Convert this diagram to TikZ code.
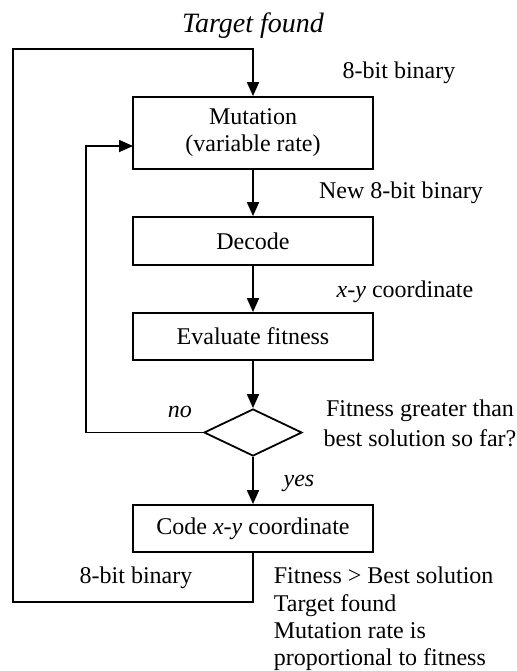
\documentclass[tikz,border=0pt]{standalone}
\usepackage{fontspec}
\setmainfont{Liberation Serif}
\usepackage{tikz}
\usetikzlibrary{positioning}
\usetikzlibrary{arrows.meta,shapes.geometric}

\begin{document}
\begin{tikzpicture}[x=0.5pt,y=-0.5pt,
  font=\fontsize{12}{13.6}\selectfont,
  >={Triangle[length=7pt,width=6pt]},
  every path/.style={line width=0.9pt},
  box/.style={draw,rectangle,minimum width=120pt,inner sep=0pt},
  decide/.style={draw,diamond,minimum width=49pt,minimum height=23.5pt,inner sep=0pt},
  lbl/.style={inner sep=0pt}]
\useasboundingbox (0,0) rectangle (517,671);
% blocks
\node[box,minimum height=36pt,align=center] (mut) at (253,133) {Mutation\\(variable rate)};
\node[box,minimum height=24pt] (dec) at (253,241) {Decode};
\node[box,minimum height=23.5pt] (eval) at (253,336.5) {Evaluate fitness};
\node[decide] (test) at (253,432.5) {};
\node[box,minimum height=23.5pt] (code) at (253,528.5) {Code \textit{x-y} coordinate};
% corner points of the loops
\coordinate (botr) at (253,602);
\coordinate (botl) at (13,602);
\coordinate (topl) at (13,49);
\coordinate (topr) at (253,49);
\coordinate (nol) at (86,432.5);
\coordinate (noup) at (86,146);
\coordinate (mutin) at (133,146);
% connectors
\draw[->] (mut) -- (dec);
\draw[->] (dec) -- (eval);
\draw[->] (eval) -- (test);
\draw[->] (test) -- (code);
\draw[->] (code.south) -- (botr) -- (botl) -- (topl) -- (topr) -- (mut.north);
\draw[->] (test.west) -- (nol) -- (noup) -- (mutin);
% labels
\node[lbl,font=\fontsize{14}{16}\selectfont] (tf) at (253,26) {\textit{Target found}};
\node[lbl] (bin1) at (399,73) {8-bit binary};
\node[lbl] (bin2) at (401,193) {New 8-bit binary};
\node[lbl] (xy) at (405,292) {\textit{x-y} coordinate};
\node[lbl] (no) at (180,412) {\textit{no}};
\node[lbl,align=center,font=\fontsize{12}{15}\selectfont] (ask) at (420,423) {Fitness greater than\\best solution so far?};
\node[lbl] (yes) at (299,483) {\textit{yes}};
\node[lbl] (bin3) at (136,578) {8-bit binary};
\node[lbl,anchor=west,align=left] (note) at (273,619) {Fitness > Best solution\\Target found\\Mutation rate is\\proportional to fitness};
\end{tikzpicture}
\end{document}
